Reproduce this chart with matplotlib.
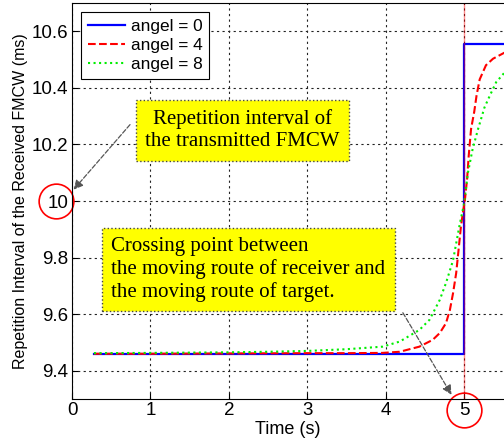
import matplotlib
matplotlib.use("Agg")
import matplotlib.pyplot as plt

# valores
t_blue = [0.28, 5.0, 5.0, 5.52]
v_blue = [9.46, 9.46, 10.555, 10.555]

t_red = [0.28, 1.0, 2.0, 3.0, 3.5, 3.96, 4.18, 4.43, 4.60, 4.69, 4.77, 4.82, 4.86,
         4.90, 4.93, 4.96, 4.99, 5.01, 5.04, 5.06, 5.09, 5.13, 5.16, 5.20, 5.28,
         5.37, 5.52]
v_red = [9.460, 9.460, 9.461, 9.462, 9.462, 9.463, 9.467, 9.485, 9.509, 9.533, 9.568,
         9.615, 9.674, 9.745, 9.826, 9.908, 9.967, 10.0, 10.08, 10.16, 10.255, 10.315,
         10.373, 10.43, 10.48, 10.503, 10.525]

t_green = [0.28, 1.0, 2.0, 2.5, 3.0, 3.5, 3.96, 4.18, 4.43, 4.56, 4.69, 4.77, 4.86,
           4.94, 5.0, 5.05, 5.11, 5.18, 5.26, 5.33, 5.41, 5.52]
v_green = [9.462, 9.463, 9.465, 9.467, 9.47, 9.476, 9.485, 9.503, 9.544, 9.58, 9.65,
           9.71, 9.79, 9.91, 9.99, 10.10, 10.184, 10.255, 10.33, 10.373, 10.42, 10.455]

etiquetas = ["angel = 0", "angel = 4", "angel = 8"]
x_ticks = [0, 1, 2, 3, 4, 5]
y_ticks = [9.4, 9.6, 9.8, 10.0, 10.2, 10.4, 10.6]
y_tick_labels = ["9.4", "9.6", "9.8", "10", "10.2", "10.4", "10.6"]

plt.rcParams['font.family'] = ['Liberation Sans', 'DejaVu Sans']

fig = plt.figure(figsize=(5.04, 4.47), dpi=100)
ax = fig.add_axes([72 / 504, 48 / 447, 432 / 504, 396 / 447])

ax.plot(t_blue, v_blue, color='#0000ff', lw=1.6, label=etiquetas[0])
ax.plot(t_red, v_red, color='#ff0000', lw=1.5, ls='--', label=etiquetas[1])
ax.plot(t_green, v_green, color='#00ee00', lw=1.5, ls=':', label=etiquetas[2])
ax.axvline(5.0, color='#ff0000', lw=1.0, alpha=0.45)

ax.set_xlim(0, 5.51)
ax.set_ylim(9.3, 10.7)
ax.set_xticks(x_ticks)
ax.set_yticks(y_ticks)
ax.set_yticklabels(y_tick_labels)
ax.tick_params(direction='in', labelsize=13.5, length=4, pad=2.5)
ax.grid(True, color='#222222', ls=(0, (2, 3)), lw=0.8)
ax.spines['right'].set_visible(False)
ax.set_xlabel("Time (s)", fontsize=13, labelpad=1)
ax.set_ylabel("Repetition Interval of the Received FMCW (ms)", fontsize=11.5, labelpad=3)

leg = ax.legend(loc='upper left', fontsize=12.4, handlelength=2.2, handletextpad=0.3,
                fancybox=False, edgecolor='black', framealpha=1, borderaxespad=0.5,
                labelspacing=0.25, borderpad=0.4)
leg.get_frame().set_linewidth(0.8)

caja = dict(boxstyle='square,pad=0.45', fc='#ffff00', ec='#444444', ls=':', lw=1)
flecha = dict(arrowstyle='-|>', ls='--', color='#555555', lw=0.9,
              mutation_scale=14, shrinkA=0, shrinkB=0)

ax.annotate("", xy=(0.02, 10.04), xytext=(0.74, 10.27), arrowprops=flecha)
ax.text(2.17, 10.25, "Repetition interval of\nthe transmitted FMCW", ha='center',
        va='center', fontsize=15, family='Liberation Serif', bbox=caja,
        linespacing=1.2)

ax.annotate("", xy=(4.84, 9.315), xytext=(4.22, 9.605), arrowprops=flecha,
            annotation_clip=False)
ax.text(0.50, 9.757, "Crossing point between\nthe moving route of receiver and\n"
        "the moving route of target.", ha='left', va='center', fontsize=15,
        family='Liberation Serif', bbox=caja, linespacing=1.2)

# circulos rojos sobre las etiquetas
ax.plot([-0.2], [10.0], marker='o', ms=25, mfc='none', mec='#ff0000', mew=1.2,
        clip_on=False)
ax.plot([5.0], [9.261], marker='o', ms=25, mfc='none', mec='#ff0000', mew=1.2,
        clip_on=False)

fig.savefig("out.png", dpi=100)
